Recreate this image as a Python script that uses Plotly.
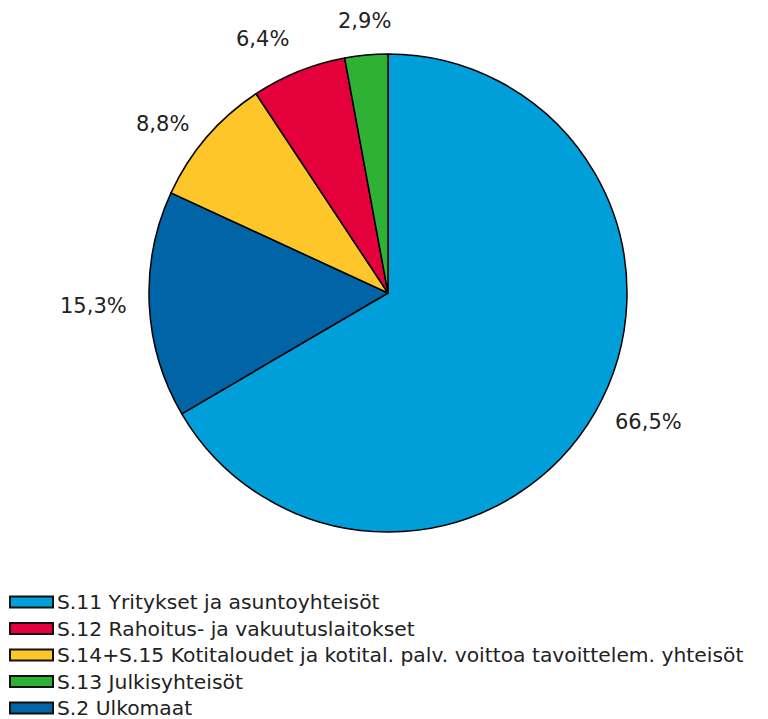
import math
import plotly.graph_objects as go

# Data (pie order, clockwise from 12 o'clock)
labels = ["S.11 Yritykset ja asuntoyhteisöt",
          "S.2 Ulkomaat",
          "S.14+S.15 Kotitaloudet ja kotital. palv. voittoa tavoittelem. yhteisöt",
          "S.12 Rahoitus- ja vakuutuslaitokset",
          "S.13 Julkisyhteisöt"]
values = [66.5, 15.3, 8.8, 6.4, 2.9]
colors = ["#009FDA", "#0064A6", "#FFC629", "#E4003A", "#2EB135"]

# Legend order
legend_order = ["S.11 Yritykset ja asuntoyhteisöt",
                "S.12 Rahoitus- ja vakuutuslaitokset",
                "S.14+S.15 Kotitaloudet ja kotital. palv. voittoa tavoittelem. yhteisöt",
                "S.13 Julkisyhteisöt",
                "S.2 Ulkomaat"]

OFF = 8  # page body margin
W, H = 768 - OFF, 719 - OFF
CX, CY, R = 388 - OFF, 293 - OFF, 239
FONT = "DejaVu Sans, Verdana, sans-serif"
TXT = "#222222"

fig = go.Figure()
fig.add_trace(go.Pie(
    labels=labels, values=values, sort=False, direction="clockwise", rotation=0,
    marker=dict(colors=colors, line=dict(color="#000000", width=1.5)),
    textinfo="none", showlegend=False, hoverinfo="label+percent",
    domain=dict(x=[(CX - R) / W, (CX + R) / W], y=[1 - (CY + R) / H, 1 - (CY - R) / H]),
))

annotations = []
total = sum(values)
cum = 0.0
rl = R + 20
for lab, v in zip(labels, values):
    mid = (cum + v / 2) / total * 2 * math.pi
    cum += v
    s, c = math.sin(mid), math.cos(mid)
    px = CX + rl * s
    py = CY - rl * c
    xa = "left" if s > 0.3 else ("right" if s < -0.3 else "center")
    ya = "middle" if abs(c) < 0.7 else ("bottom" if c > 0 else "top")
    annotations.append(dict(
        x=px / W, y=1 - py / H, xref="paper", yref="paper", showarrow=False,
        xanchor=xa, yanchor=ya, text=f"{v:.1f}".replace(".", ",") + "%",
        font=dict(family=FONT, size=21, color=TXT)))

shapes = []
color_map = dict(zip(labels, colors))
row0, step = 602 - OFF, 26.5
for i, lab in enumerate(legend_order):
    yc = row0 + i * step
    shapes.append(dict(type="rect", xref="paper", yref="paper",
                       x0=(10 - OFF) / W, x1=(53 - OFF) / W,
                       y0=1 - (yc + 5.5) / H, y1=1 - (yc - 5.5) / H,
                       fillcolor=color_map[lab], line=dict(color="#111111", width=2)))
    annotations.append(dict(x=(55 - OFF) / W, y=1 - yc / H, xref="paper", yref="paper",
                            showarrow=False, xanchor="left", yanchor="middle", text=lab,
                            font=dict(family=FONT, size=20.3, color=TXT)))

fig.update_layout(width=W, height=H, margin=dict(l=0, r=0, t=0, b=0),
                  paper_bgcolor="white", plot_bgcolor="white",
                  annotations=annotations, shapes=shapes)
fig.write_html("out.html")
